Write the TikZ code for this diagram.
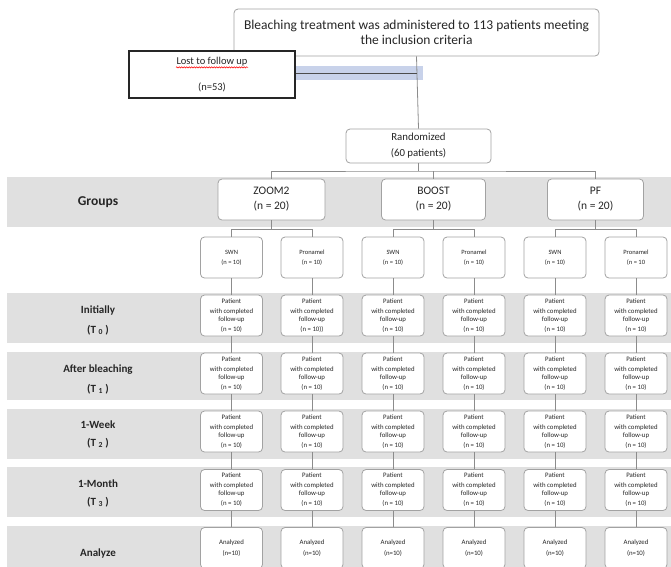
\documentclass[tikz,border=0pt]{standalone}
\usepackage{fontspec}
\setmainfont{Carlito}
\usetikzlibrary{decorations.pathmorphing}
\definecolor{band}{HTML}{E0E0E0}
\definecolor{edge}{HTML}{A2A2A2}
\definecolor{wire}{HTML}{8C8C8C}
\definecolor{blu}{HTML}{C8D2EA}
\definecolor{ink}{HTML}{262626}
\begin{document}
\begin{tikzpicture}[x=1pt,y=-1pt,
  box/.style={draw=edge, fill=white, rounded corners=4pt, line width=0.8pt, align=center, inner sep=0pt, text=ink},
  tiny/.style={box, minimum width=62pt, minimum height=41pt, font=\fontsize{6.8}{8}\selectfont},
  grp/.style={box, minimum height=41pt, font=\fontsize{11.5}{14}\selectfont},
  link/.style={draw=wire, line width=0.8pt},
  lab/.style={font=\fontsize{11}{13}\selectfont\bfseries, align=center, text=ink}]
\useasboundingbox (0,0) rectangle (671,566);
\clip (0,0) rectangle (671,566);
% bands
\fill[band] (7,177) rectangle (671,227);
\fill[band] (7,293) rectangle (671,343);
\fill[band] (7,352) rectangle (671,400);
\fill[band] (7,409) rectangle (671,459);
\fill[band] (7,467) rectangle (671,517);
\fill[band] (7,526) rectangle (671,570);
% row labels
\node[lab, font=\fontsize{13.5}{15}\selectfont\bfseries] (lg) at (98,202) {Groups};
\node[lab] (l0) at (98,320) {Initially\\[7pt](T \textsubscript{0} )};
\node[lab] (l1) at (98,379) {After bleaching\\[7pt](T \textsubscript{1} )};
\node[lab] (l2) at (98,434) {1-Week\\[5pt](T \textsubscript{2} )};
\node[lab] (l3) at (98,493) {1-Month\\[5pt](T \textsubscript{3} )};
\node[lab] (l4) at (98,553) {Analyze};
% top part
\fill[blu] (295,66) rectangle (423,80);
\node[box, minimum width=365pt, minimum height=47pt, font=\fontsize{13.5}{15}\selectfont] (top) at (416.5,32.5) {Bleaching treatment was administered to 113 patients meeting\\the inclusion criteria};
\node[draw=black!85, fill=white, line width=1.2pt, minimum width=166pt, minimum height=47pt, inner sep=0pt, align=center, text=ink, font=\fontsize{10.5}{12}\selectfont] (lost) at (212,74.5) {Lost to follow up\\[14pt](n=53)};
\draw[red, line width=0.5pt, decorate, decoration={snake, amplitude=0.7pt, segment length=2.5pt}] (lost.north) ++(-36,17) -- ++(72,0);
\node[box, minimum width=145pt, minimum height=34pt, font=\fontsize{10.8}{12}\selectfont] (rand) at (418.5,146) {Randomized\\[4pt](60 patients)};
\coordinate (j) at (417,73);
\draw[link] (top.south) -- (rand.north);
\draw[draw=black!70, line width=0.8pt] (lost.east |- j) -- (j);
% groups
\node[grp, minimum width=107pt] (g1) at (271.5,199.5) {ZOOM2\\[1pt](n = 20)};
\node[grp, minimum width=104pt] (g2) at (433.5,199.5) {BOOST\\[1pt](n = 20)};
\node[grp, minimum width=96pt] (g3) at (595.5,199.5) {PF\\[1pt](n = 20)};
\coordinate (rb) at (418.5,171);
\draw[link] (rand.south) -- (rb);
\draw[link] (g1.north) |- (rb) -| (g3.north);
\draw[link] (g2.north) -- (g2.north |- rb);
% subgroups
\foreach \i/\x/\t/\n in {1/231.5/SWN/(n = 10), 2/312/Pronamel/(n = 10), 3/393/SWN/(n = 10), 4/474/Pronamel/(n = 10), 5/555/SWN/(n = 10), 6/636/Pronamel/(n = 10}
  \node[tiny, font=\fontsize{6.5}{7.5}\selectfont] (s\i) at (\x,257.5) {\t\\[2.5pt]\n};
\foreach \g/\a/\b in {g1/s1/s2, g2/s3/s4, g3/s5/s6}{
  \draw[link] (\g.south) -- ++(0,9) coordinate (\g b);
  \draw[link] (\a.north) |- (\g b) -| (\b.north);
}
% follow-up rows
\foreach \i/\x/\n in {1/231.5/(n = 10), 2/312/(n = 10)), 3/393/(n = 10), 4/474/(n = 10), 5/555/(n = 10), 6/636/(n = 10)}
  \node[tiny] (a\i) at (\x,315.5) {Patient\\[2pt]with completed\\follow-up\\[2pt]\n};
\foreach \r/\y in {b/373.5, c/431.5, d/490}
  \foreach \i/\x in {1/231.5, 2/312, 3/393, 4/474, 5/555, 6/636}
    \node[tiny] (\r\i) at (\x,\y) {Patient\\[2pt]with completed\\follow-up\\[2pt](n = 10)};
\foreach \i/\x in {1/231.5, 2/312, 3/393, 4/474, 5/555, 6/636}
  \node[tiny] (e\i) at (\x,548) {Analyzed\\[2.5pt](n=10)};
\foreach \i in {1,...,6}
  \draw[link] (s\i) -- (a\i) -- (b\i) -- (c\i) -- (d\i) -- (e\i);
\end{tikzpicture}
\end{document}
